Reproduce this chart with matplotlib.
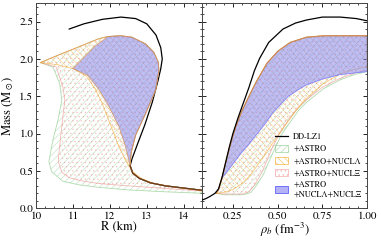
import numpy as np
import matplotlib
matplotlib.use("Agg")
import matplotlib.pyplot as plt
from matplotlib.patches import Patch
from matplotlib.lines import Line2D
from matplotlib.colors import to_rgba

plt.rcParams['font.family'] = 'STIXGeneral'
plt.rcParams['mathtext.fontset'] = 'stix'
plt.rcParams['hatch.linewidth'] = 0.45

#%% left panel: mass-radius
# DD-LZ1 (top branch, then along right edge of bands, then tail)
mr_black_R = [10.9, 11.3, 11.8, 12.3, 12.7, 13.0, 13.25, 13.38, 13.42, 13.38, 13.3, 13.15, 12.95, 12.75, 12.6, 12.55, 12.62, 12.8, 13.1, 13.5, 14.0, 14.5]
mr_black_M = [2.40, 2.47, 2.53, 2.56, 2.54, 2.47, 2.32, 2.15, 2.0, 1.87, 1.7, 1.42, 1.12, 0.86, 0.66, 0.57, 0.47, 0.40, 0.34, 0.30, 0.27, 0.24]

# common upper envelope of the bands: tip -> top -> right edge -> tail
env_R = [10.12, 10.5, 10.9, 11.3, 11.7, 11.95, 12.3, 12.6, 12.97, 13.19, 13.31, 13.33, 13.24, 12.97, 12.7, 12.58, 12.55, 12.62, 12.8, 13.1, 13.5, 14.0, 14.5]
env_M = [1.95, 2.03, 2.11, 2.19, 2.27, 2.30, 2.31, 2.29, 2.20, 2.09, 1.96, 1.85, 1.58, 1.27, 0.98, 0.75, 0.57, 0.47, 0.40, 0.34, 0.30, 0.27, 0.24]

# lower boundaries (from tip down, then along bottom)
astro_lo_R = [10.12, 10.46, 10.64, 10.7, 10.6, 10.46, 10.35, 10.42, 10.73, 11.2, 11.7, 12.5, 13.5, 14.5]
astro_lo_M = [1.95, 1.89, 1.67, 1.45, 1.19, 0.92, 0.63, 0.49, 0.36, 0.31, 0.28, 0.245, 0.22, 0.20]
lam_lo_R = [10.12, 10.6, 11.0, 11.36, 11.6, 11.8, 11.95, 12.08, 12.25, 12.45, 12.6, 12.85, 13.2, 13.8, 14.5]
lam_lo_M = [1.95, 1.92, 1.87, 1.77, 1.6, 1.4, 1.2, 1.04, 0.82, 0.62, 0.50, 0.40, 0.33, 0.28, 0.235]
xi_lo_R = [10.12, 10.55, 10.73, 10.78, 10.72, 10.66, 10.6, 10.7, 10.9, 11.2, 11.7, 12.5, 13.5, 14.5]
xi_lo_M = [1.95, 1.89, 1.62, 1.45, 1.19, 0.92, 0.63, 0.48, 0.41, 0.37, 0.33, 0.30, 0.265, 0.23]

# all constraints (closed contour)
all_R = [11.0, 11.3, 11.6, 11.95, 12.3, 12.6, 12.97, 13.19, 13.31, 13.33, 13.24, 12.97, 12.7, 12.58, 12.54, 12.43, 12.25, 11.99, 11.72, 11.4, 11.0]
all_M = [1.87, 2.02, 2.17, 2.30, 2.31, 2.29, 2.20, 2.09, 1.96, 1.85, 1.58, 1.27, 0.98, 0.75, 0.58, 0.82, 1.09, 1.35, 1.58, 1.78, 1.87]

#%% right panel: mass vs central density
rb_black = [0.078, 0.10, 0.12, 0.15, 0.17, 0.19, 0.21, 0.23, 0.25, 0.28, 0.31, 0.34, 0.37, 0.40, 0.45, 0.53, 0.60, 0.66, 0.75, 0.85, 0.94, 1.0]
mb_black = [0.11, 0.13, 0.155, 0.20, 0.26, 0.42, 0.62, 0.82, 1.0, 1.22, 1.42, 1.62, 1.84, 2.01, 2.22, 2.40, 2.48, 2.52, 2.56, 2.56, 2.54, 2.51]

rb_up = [0.157, 0.17, 0.19, 0.21, 0.23, 0.25, 0.27, 0.30, 0.34, 0.38, 0.44, 0.50, 0.57, 0.66, 0.76, 0.88, 1.0]
mb_up = [0.20, 0.25, 0.41, 0.61, 0.80, 0.97, 1.12, 1.30, 1.50, 1.69, 1.94, 2.10, 2.22, 2.29, 2.31, 2.31, 2.31]

rb_astro_lo = [0.157, 0.2, 0.25, 0.31, 0.35, 0.38, 0.42, 0.475, 0.52, 0.569, 0.62, 0.663, 0.756, 0.85, 0.93, 1.0]
mb_astro_lo = [0.20, 0.18, 0.18, 0.18, 0.21, 0.30, 0.45, 0.75, 0.98, 1.15, 1.32, 1.42, 1.60, 1.72, 1.79, 1.83]
rb_xi_lo = [0.157, 0.2, 0.25, 0.30, 0.34, 0.37, 0.41, 0.465, 0.51, 0.56, 0.61, 0.66, 0.75, 0.85, 0.93, 1.0]
mb_xi_lo = [0.20, 0.19, 0.19, 0.19, 0.22, 0.31, 0.47, 0.78, 1.0, 1.18, 1.34, 1.45, 1.62, 1.74, 1.81, 1.85]
rb_lam_lo = [0.157, 0.2, 0.25, 0.306, 0.35, 0.382, 0.43, 0.475, 0.53, 0.57, 0.62, 0.66, 0.75, 0.85, 0.93, 1.0]
mb_lam_lo = [0.20, 0.21, 0.25, 0.34, 0.45, 0.56, 0.72, 0.88, 1.07, 1.2, 1.36, 1.47, 1.66, 1.80, 1.86, 1.89]
rb_all_lo = [0.19, 0.24, 0.29, 0.34, 0.38, 0.43, 0.47, 0.52, 0.56, 0.61, 0.66, 0.75, 0.85, 1.0]
mb_all_lo = [0.41, 0.56, 0.72, 0.86, 0.98, 1.13, 1.27, 1.40, 1.50, 1.58, 1.65, 1.73, 1.79, 1.83]

c_astro = '#7cc47c'
c_lam = '#f5a623'
c_xi = '#ef8a8a'
c_all = '#8080ee'


def band(ax, x, y, color, hatch):
    ax.fill(x, y, facecolor='none', edgecolor=to_rgba(color, 0.45), hatch=hatch, lw=0, zorder=2)
    ax.plot(x, y, color=color, lw=0.6, alpha=0.6, zorder=3)


def close(up_x, up_y, lo_x, lo_y):
    return list(up_x) + list(lo_x[::-1]), list(up_y) + list(lo_y[::-1])


fig = plt.figure(figsize=(3.81, 2.41), dpi=100)
ax1 = fig.add_axes([0.0945, 0.136, 0.436, 0.852])
ax2 = fig.add_axes([0.5305, 0.136, 0.433, 0.852])

# left
ax1.plot(mr_black_R, mr_black_M, color='k', lw=0.9, zorder=1)
x, y = close(env_R, env_M, astro_lo_R, astro_lo_M)
band(ax1, x, y, c_astro, '/////')
x, y = close(env_R, env_M, xi_lo_R, xi_lo_M)
band(ax1, x, y, c_xi, '....')
x, y = close(env_R, env_M, lam_lo_R, lam_lo_M)
band(ax1, x, y, c_lam, '\\\\\\\\\\')
ax1.fill(all_R, all_M, facecolor=c_all, alpha=0.5, lw=0, zorder=4)
ax1.plot(all_R, all_M, color='#d09060', lw=0.6, alpha=0.8, zorder=5)
ax1.plot(mr_black_R[15:], mr_black_M[15:], color='#6b3a1a', lw=0.9, zorder=5)

# right
ax2.plot(rb_black, mb_black, color='k', lw=0.9, zorder=6)
x, y = close(rb_up, mb_up, rb_astro_lo, mb_astro_lo)
band(ax2, x, y, c_astro, '/////')
x, y = close(rb_up, mb_up, rb_xi_lo, mb_xi_lo)
band(ax2, x, y, c_xi, '....')
x, y = close(rb_up, mb_up, rb_lam_lo, mb_lam_lo)
band(ax2, x, y, c_lam, '\\\\\\\\\\')
x, y = close(rb_up, mb_up, rb_all_lo, mb_all_lo)
ax2.fill(x, y, facecolor=c_all, alpha=0.5, lw=0, zorder=4)
ax2.plot(rb_up, mb_up, color='#d08a50', lw=0.8, zorder=5)
ax2.plot(rb_all_lo, mb_all_lo, color='#7070ff', lw=0.6, alpha=0.8, zorder=5)

ax1.set_xlim(10, 14.5)
ax2.set_xlim(0.078, 1.0)
for ax in (ax1, ax2):
    ax.set_ylim(0, 2.75)
    ax.set_yticks([0, 0.5, 1.0, 1.5, 2.0, 2.5])
    ax.minorticks_on()
    ax.tick_params(which='both', direction='in', top=True, right=True, labelsize=8, pad=2)
    ax.tick_params(which='major', length=3, width=0.6)
    ax.tick_params(which='minor', length=1.6, width=0.5)
    for s in ax.spines.values():
        s.set_linewidth(0.7)
        s.set_color('#444444')
ax1.set_yticks(np.arange(0, 2.75, 0.1), minor=True)
ax2.set_yticks(np.arange(0, 2.75, 0.1), minor=True)
ax1.set_xticks([10, 11, 12, 13, 14])
ax1.set_xticks(np.arange(10, 14.5, 0.25), minor=True)
ax2.set_xticks([0.25, 0.5, 0.75, 1.0])
ax2.set_xticks(np.arange(0.1, 1.0, 0.05), minor=True)
ax2.set_xticklabels(['0.25', '0.50', '0.75', '1.00'])
ax1.set_yticklabels(['0.0', '0.5', '1.0', '1.5', '2.0', '2.5'])
ax2.tick_params(labelleft=False)

ax1.set_xlabel('R (km)', fontsize=9, labelpad=0)
ax1.set_ylabel(r'Mass (M$_\odot$)', fontsize=9, labelpad=2)
ax2.set_xlabel(r'$\rho_b$ (fm$^{-3}$)', fontsize=9, labelpad=0)

handles = [
    Line2D([], [], color='k', lw=0.9),
    Patch(facecolor='none', edgecolor=to_rgba(c_astro, 0.6), hatch='/////', lw=0.6),
    Patch(facecolor='none', edgecolor=to_rgba(c_lam, 0.7), hatch='\\\\\\\\\\', lw=0.6),
    Patch(facecolor='none', edgecolor=to_rgba(c_xi, 0.6), hatch='....', lw=0.6),
    Patch(facecolor=to_rgba(c_all, 0.6), edgecolor='#6060ff', lw=0.6),
]
labels = ['DD-LZ1', '+ASTRO', '+ASTRO+NUCLΛ', '+ASTRO+NUCLΞ', '+ASTRO\n+NUCLΛ+NUCLΞ']
ax2.legend(handles, labels, loc='lower right', bbox_to_anchor=(1.0, 0.02), frameon=False,
           fontsize=6, handlelength=1.6, handleheight=0.9, handletextpad=0.6, labelspacing=0.45,
           borderaxespad=0.3)

fig.savefig('out.png', dpi=100)
